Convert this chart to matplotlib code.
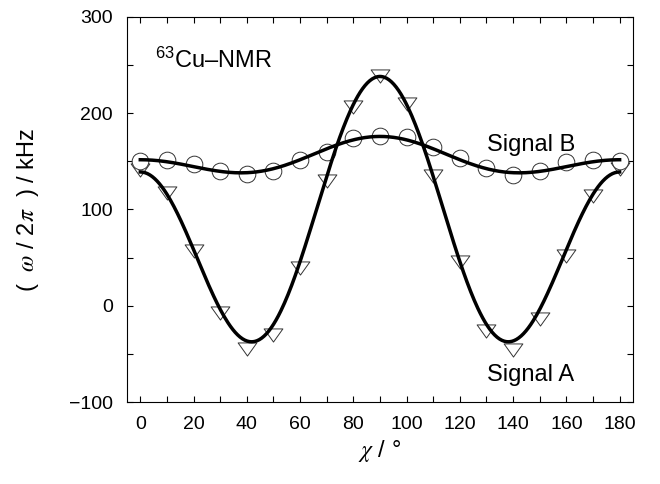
import numpy as np
import matplotlib
matplotlib.use('Agg')
from matplotlib import pyplot as plt
from matplotlib.path import Path
from matplotlib.ticker import MultipleLocator

plt.rcParams['font.family'] = ['Liberation Sans', 'DejaVu Sans']
plt.rcParams['mathtext.fontset'] = 'stix'

# rotation angle chi (deg)
chi = [0, 10, 20, 30, 40, 50, 60, 70, 80, 90, 100, 110, 120, 130, 140, 150, 160, 170, 180]

# line positions (kHz)
signal_a = [141, 117, 57, -8, -45, -30, 39, 130, 207, 238.6, 210, 135, 45, -26, -46, -14, 52, 114.5, 142]
signal_b = [150, 151.7, 147, 140, 137, 139.5, 151.7, 160, 174, 176.6, 175, 165, 154, 143, 136, 139.5, 149, 151, 150.6]

# rotation pattern coefficients  a + b cos(2chi) + c cos(4chi)
fit_a = [76.95, -49.6, 111.65]
fit_b = [151.7, -12.1, 12.1]


def rotation_curve(coef):
    xs = np.linspace(0, 180, 400)
    r = np.radians(xs)
    return xs, coef[0] + coef[1] * np.cos(2 * r) + coef[2] * np.cos(4 * r)


# downward triangle, wider than tall
tri = Path([(-1, 0.7), (1, 0.7), (0, -0.7), (-1, 0.7)],
           [Path.MOVETO, Path.LINETO, Path.LINETO, Path.CLOSEPOLY])

fig = plt.figure(figsize=(6.6, 4.84), dpi=100)
ax = fig.add_axes([0.1924, 0.1694, 0.7666, 0.7955])

ax.plot(chi, signal_a, ls='none', marker=tri, ms=13.5, mfc='white', mec='#333333', mew=0.7, zorder=2)
ax.plot(chi, signal_b, ls='none', marker='o', ms=12, mfc='white', mec='#333333', mew=0.7, zorder=2)

xa, ya = rotation_curve(fit_a)
xb, yb = rotation_curve(fit_b)
ax.plot(xa, ya, color='black', lw=2.5, zorder=3)
ax.plot(xb, yb, color='black', lw=2.5, zorder=3)

ax.set_xlim(-5, 185)
ax.set_ylim(-100, 300)
ax.xaxis.set_major_locator(MultipleLocator(20))
ax.xaxis.set_minor_locator(MultipleLocator(10))
ax.yaxis.set_major_locator(MultipleLocator(100))
ax.yaxis.set_minor_locator(MultipleLocator(50))
ax.tick_params(which='both', direction='in', top=True, right=True, length=4.5, width=0.8)
ax.tick_params(which='major', labelsize=14, pad=10)
for s in ax.spines.values():
    s.set_linewidth(0.8)

ax.text(5.4, 247, r'$\mathregular{^{63}}$Cu–NMR', fontsize=17)
ax.text(130.3, 161, 'Signal B', fontsize=17)
ax.text(130.3, -78.6, 'Signal A', fontsize=17)

ax.set_xlabel(r'$\chi$ / °', fontsize=17, labelpad=4)
ax.set_ylabel(r'(  $\omega$ / 2$\pi$  ) / kHz', fontsize=17, labelpad=20)

fig.savefig('out.png', dpi=100)
